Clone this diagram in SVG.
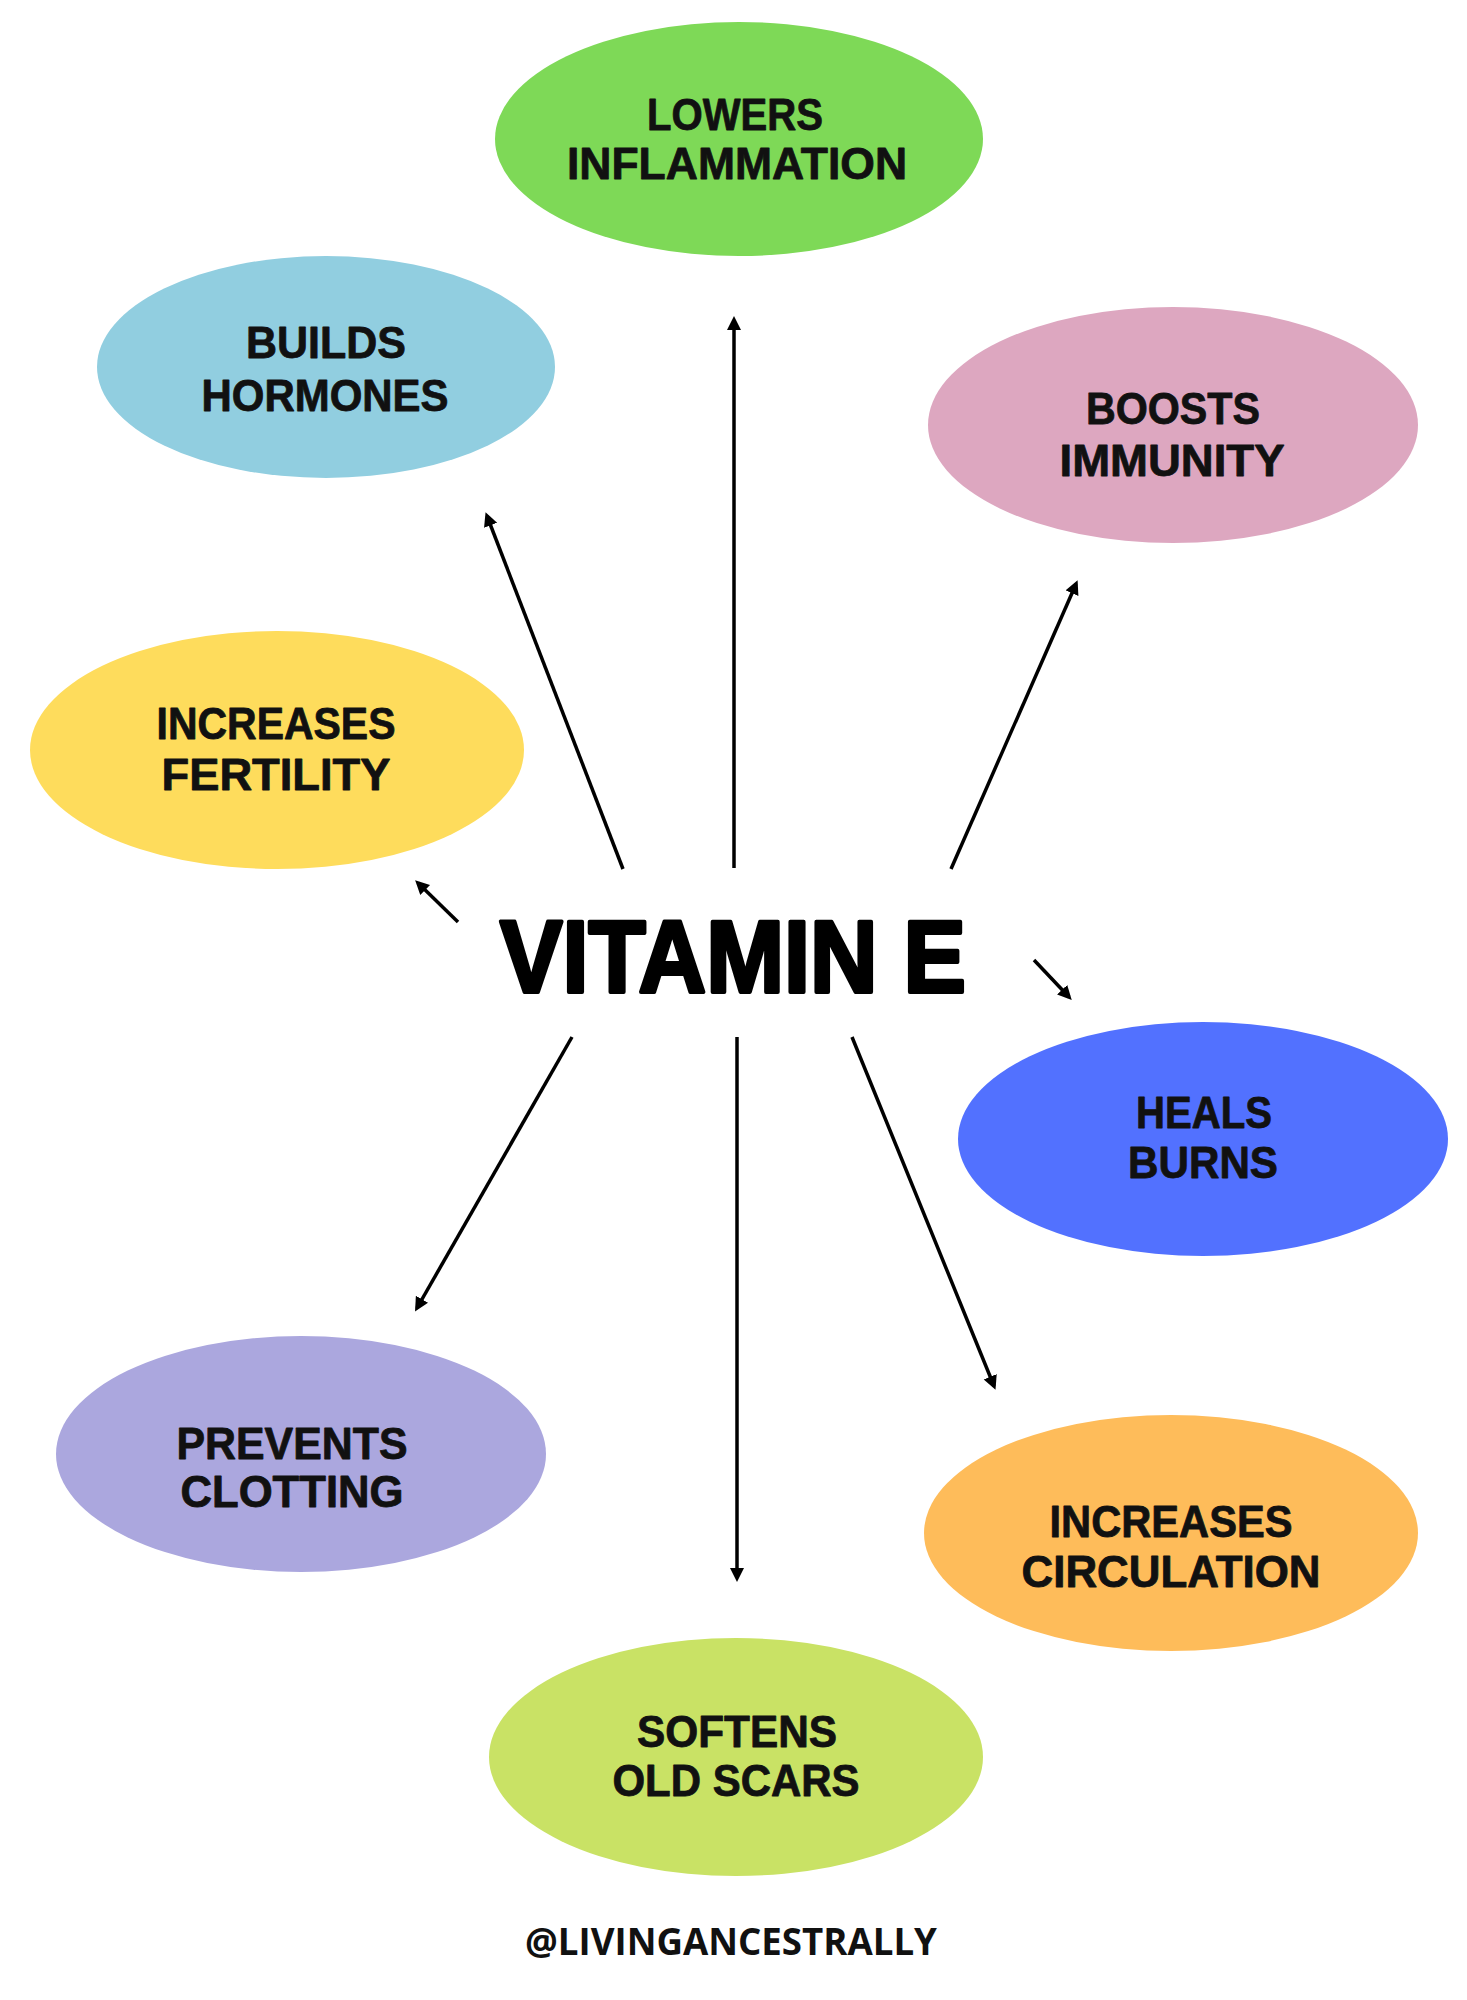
<svg xmlns="http://www.w3.org/2000/svg" width="1467" height="2000" viewBox="0 0 1467 2000">
<style>
.lbl{font-family:"Liberation Sans","DejaVu Sans",sans-serif;font-weight:bold;font-size:44px;fill:#111;stroke:#111;stroke-width:0.8;stroke-linejoin:round;text-anchor:middle}
.title{font-family:"Liberation Sans","DejaVu Sans",sans-serif;font-weight:bold;font-size:102px;fill:#000;stroke:#000;stroke-width:4;stroke-linejoin:round;text-anchor:middle}
.wm{font-family:"Open Sans","Liberation Sans",sans-serif;font-weight:bold;font-size:38px;fill:#111;text-anchor:middle}
.conn line{stroke:#000;stroke-width:3.5;marker-end:url(#ah)}
</style>
<defs>
<marker id="ah" markerUnits="userSpaceOnUse" markerWidth="16" markerHeight="16" refX="10" refY="7" orient="auto">
<path d="M0,0 L14,7 L0,14 Z" fill="#000"/>
</marker>
</defs>
<rect width="1467" height="2000" fill="#fff"/>
<g id="n-inflammation">
<ellipse cx="739" cy="139" rx="244" ry="117" fill="#7ED957"/>
<text class="lbl" x="735" y="130" textLength="176" lengthAdjust="spacingAndGlyphs">LOWERS</text>
<text class="lbl" x="737" y="179" textLength="340" lengthAdjust="spacingAndGlyphs">INFLAMMATION</text>
</g>
<g id="n-hormones">
<ellipse cx="326" cy="367" rx="229" ry="111" fill="#91CEE0"/>
<text class="lbl" x="326" y="358" textLength="160" lengthAdjust="spacingAndGlyphs">BUILDS</text>
<text class="lbl" x="325" y="411" textLength="247" lengthAdjust="spacingAndGlyphs">HORMONES</text>
</g>
<g id="n-immunity">
<ellipse cx="1173" cy="425" rx="245" ry="118" fill="#DDA7C0"/>
<text class="lbl" x="1173" y="424" textLength="174" lengthAdjust="spacingAndGlyphs">BOOSTS</text>
<text class="lbl" x="1172" y="476" textLength="225" lengthAdjust="spacingAndGlyphs">IMMUNITY</text>
</g>
<g id="n-fertility">
<ellipse cx="277" cy="750" rx="247" ry="119" fill="#FEDC5C"/>
<text class="lbl" x="276" y="739" textLength="239" lengthAdjust="spacingAndGlyphs">INCREASES</text>
<text class="lbl" x="276" y="790" textLength="229" lengthAdjust="spacingAndGlyphs">FERTILITY</text>
</g>
<g id="n-center">
<text class="title" x="733" y="992" textLength="466" lengthAdjust="spacingAndGlyphs">VITAMIN E</text>
</g>
<g id="n-burns">
<ellipse cx="1203" cy="1139" rx="245" ry="117" fill="#5271FF"/>
<text class="lbl" x="1204" y="1128" textLength="136" lengthAdjust="spacingAndGlyphs">HEALS</text>
<text class="lbl" x="1203" y="1178" textLength="150" lengthAdjust="spacingAndGlyphs">BURNS</text>
</g>
<g id="n-clotting">
<ellipse cx="301" cy="1454" rx="245" ry="118" fill="#ABA7DE"/>
<text class="lbl" x="292" y="1459" textLength="231" lengthAdjust="spacingAndGlyphs">PREVENTS</text>
<text class="lbl" x="292" y="1507" textLength="223" lengthAdjust="spacingAndGlyphs">CLOTTING</text>
</g>
<g id="n-circulation">
<ellipse cx="1171" cy="1533" rx="247" ry="118" fill="#FEBC5A"/>
<text class="lbl" x="1171" y="1537" textLength="243" lengthAdjust="spacingAndGlyphs">INCREASES</text>
<text class="lbl" x="1171" y="1587" textLength="299" lengthAdjust="spacingAndGlyphs">CIRCULATION</text>
</g>
<g id="n-scars">
<ellipse cx="736" cy="1757" rx="247" ry="119" fill="#C9E265"/>
<text class="lbl" x="737" y="1747" textLength="200" lengthAdjust="spacingAndGlyphs">SOFTENS</text>
<text class="lbl" x="736" y="1796" textLength="247" lengthAdjust="spacingAndGlyphs">OLD SCARS</text>
</g>
<g id="connectors" class="conn">
<line x1="734" y1="868" x2="734" y2="320"/>
<line x1="623" y1="869" x2="487" y2="516"/>
<line x1="951" y1="869" x2="1076" y2="584"/>
<line x1="458" y1="922" x2="418" y2="883"/>
<line x1="1034" y1="960" x2="1069" y2="997"/>
<line x1="572" y1="1037" x2="417" y2="1308"/>
<line x1="737" y1="1037" x2="737" y2="1578"/>
<line x1="852" y1="1037" x2="994" y2="1386"/>
</g>
<text class="wm" x="731" y="1955" textLength="412" lengthAdjust="spacingAndGlyphs">@LIVINGANCESTRALLY</text>
</svg>
